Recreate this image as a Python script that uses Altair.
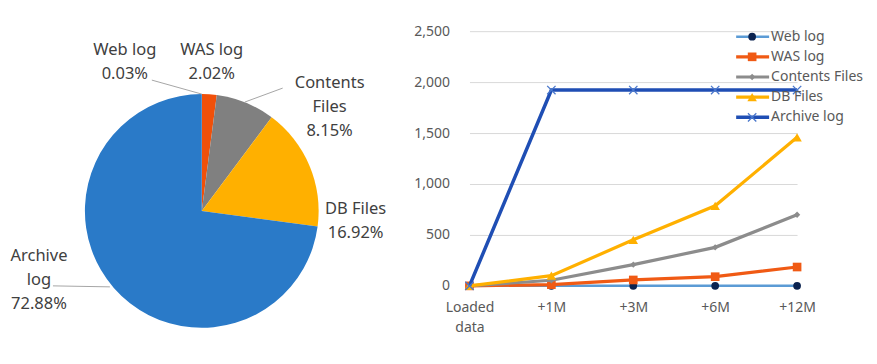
import altair as alt
import pandas as pd

# ---------------- data ----------------
categories = ["Loaded data", "+1M", "+3M", "+6M", "+12M"]
series_names = ["Web log", "WAS log", "Contents Files", "DB Files", "Archive log"]
web_log = [0, 0, 0, 0, 0]
was_log = [0, 12, 58, 90, 185]
contents_files = [0, 55, 208, 378, 698]
db_files = [0, 100, 452, 786, 1458]
archive_log = [0, 1922, 1922, 1922, 1922]

pie_names = ["Web log", "WAS log", "Contents Files", "DB Files", "Archive log"]
pie_display = ["Web log", "WAS log", "Contents\nFiles", "DB Files", "Archive\nlog"]
pie_pct = [0.03, 2.02, 8.15, 16.92, 72.88]

y_ticks = [0, 500, 1000, 1500, 2000, 2500]

# ---------------- styles ----------------
FONT = "Noto Sans"
pie_colors = ["#5B9BD5", "#F0500A", "#808080", "#FFB000", "#2A7AC8"]
line_colors = ["#5B9BD5", "#F05A14", "#8C8C8C", "#FFB000", "#1F4EB4"]
marker_colors = ["#0B2350", "#F05A14", "#8C8C8C", "#FFB000", "#4A78CC"]
line_widths = [2.5, 3.2, 3.2, 3.2, 3.5]
marker_shapes = ["circle", "square", "diamond", "triangle-up", "M-1,-1L1,1M-1,1L1,-1"]
marker_sizes = [60, 75, 40, 90, 70]

# page -> group coordinate helpers
PIE_OX, PIE_OY = 8, 32
LINE_OX, LINE_OY = 470, 32


def P(x, y):
    return x - PIE_OX, y - PIE_OY


def L(x, y):
    return x - LINE_OX, y - LINE_OY


# ---------------- pie ----------------
pie_df = pd.DataFrame({
    "name": pie_names,
    "pct": pie_pct,
    "idx": list(range(len(pie_names))),
    "label": [f"{d}\n{p:.2f}%" for d, p in zip(pie_display, pie_pct)],
})

cx, cy = P(202, 212)
pie_base = alt.Chart(pie_df)
arcs = pie_base.mark_arc(outerRadius=117).encode(
    theta=alt.Theta("pct:Q", stack=True),
    order=alt.Order("idx:Q", sort="ascending"),
    color=alt.Color("name:N", scale=alt.Scale(domain=pie_names, range=pie_colors), legend=None),
    x=alt.value(cx),
    y=alt.value(cy),
)

label_pos = {
    "Web log": (125, 56),
    "WAS log": (212, 56),
    "Contents Files": (330, 89),
    "DB Files": (356, 215),
    "Archive log": (39, 262),
}
leaders = {
    "Web log": ((152, 81), (202, 95)),
    "Contents Files": ((283, 89), (245, 103)),
    "Archive log": ((53, 287), (110, 288)),
}

pie_layers = [arcs]
for name, (lx, ly) in label_pos.items():
    gx, gy = P(lx, ly)
    pie_layers.append(
        pie_base.transform_filter(alt.datum.name == name)
        .mark_text(align="center", baseline="alphabetic", lineBreak="\n", lineHeight=24,
                   fontSize=16.5, font=FONT, color="#404040")
        .encode(text="label:N", x=alt.value(gx), y=alt.value(gy))
    )
for name, ((x1, y1), (x2, y2)) in leaders.items():
    a = P(x1, y1)
    b = P(x2, y2)
    pie_layers.append(
        pie_base.transform_filter(alt.datum.name == name)
        .mark_rule(color="#A6A6A6", strokeWidth=1)
        .encode(x=alt.value(a[0]), y=alt.value(a[1]), x2=alt.value(b[0]), y2=alt.value(b[1]))
    )

pie = alt.layer(*pie_layers).properties(width=406, height=255)

# ---------------- line chart ----------------
rows = []
for s, vals in zip(series_names, [web_log, was_log, contents_files, db_files, archive_log]):
    for ci, (c, v) in enumerate(zip(categories, vals)):
        rows.append({"series": s, "category": c, "ci": ci, "value": v})
line_df = pd.DataFrame(rows)

x_enc = alt.X(
    "category:N", sort=categories,
    scale=alt.Scale(type="point", padding=0),
    axis=alt.Axis(title=None, labelAngle=0, ticks=False, grid=False,
                  domainColor="#D9D9D9", labelPadding=15, labelLineHeight=20,
                  labelFontSize=14, labelFont=FONT, labelColor="#595959",
                  labelExpr="split(datum.label, ' ')"),
)
y_enc = alt.Y(
    "value:Q", scale=alt.Scale(domain=[0, 2500], nice=False),
    axis=alt.Axis(title=None, values=y_ticks, format=",.0f", ticks=False, domain=False,
                  grid=True, gridColor="#D9D9D9", labelPadding=20,
                  labelFontSize=14, labelFont=FONT, labelColor="#595959"),
)

line_base = alt.Chart(line_df)
line_layers = []
for i, s in enumerate(series_names):
    sub = line_base.transform_filter(alt.datum.series == s)
    line_layers.append(
        sub.mark_line(color=line_colors[i], strokeWidth=line_widths[i]).encode(
            x=x_enc, y=y_enc, order=alt.Order("ci:Q"))
    )
    is_x = marker_shapes[i].startswith("M")
    line_layers.append(
        sub.mark_point(filled=not is_x, shape=marker_shapes[i], size=marker_sizes[i],
                       color=marker_colors[i], opacity=1,
                       strokeWidth=1.3 if is_x else 1).encode(x=x_enc, y=y_enc)
    )

# manual legend (top right)
for i, s in enumerate(series_names):
    yy = 37.5 + 20.2 * i
    a = L(737, yy)
    b = L(770, yy)
    m = L(753, yy)
    t = L(772, yy)
    one = line_base.transform_filter((alt.datum.series == s) & (alt.datum.ci == 0))
    line_layers.append(
        one.mark_rule(color=line_colors[i], strokeWidth=line_widths[i]).encode(
            x=alt.value(a[0]), x2=alt.value(b[0]), y=alt.value(a[1]))
    )
    is_x = marker_shapes[i].startswith("M")
    line_layers.append(
        one.mark_point(filled=not is_x, shape=marker_shapes[i], size=marker_sizes[i],
                       color=marker_colors[i], opacity=1,
                       strokeWidth=1.3 if is_x else 1).encode(
            x=alt.value(m[0]), y=alt.value(m[1]))
    )
    line_layers.append(
        one.mark_text(align="left", baseline="middle", fontSize=14, font=FONT,
                      color="#595959").encode(
            text="series:N", x=alt.value(t[0]), y=alt.value(t[1]))
    )

lines = alt.layer(*line_layers).properties(width=328, height=255)

chart = (
    alt.hconcat(pie, lines, spacing=0)
    .properties(padding={"left": 0, "top": 16, "right": 5, "bottom": 5}, background="white")
    .configure_view(stroke=None)
)

chart.save("out.html", embed_options={"renderer": "svg", "actions": False})
